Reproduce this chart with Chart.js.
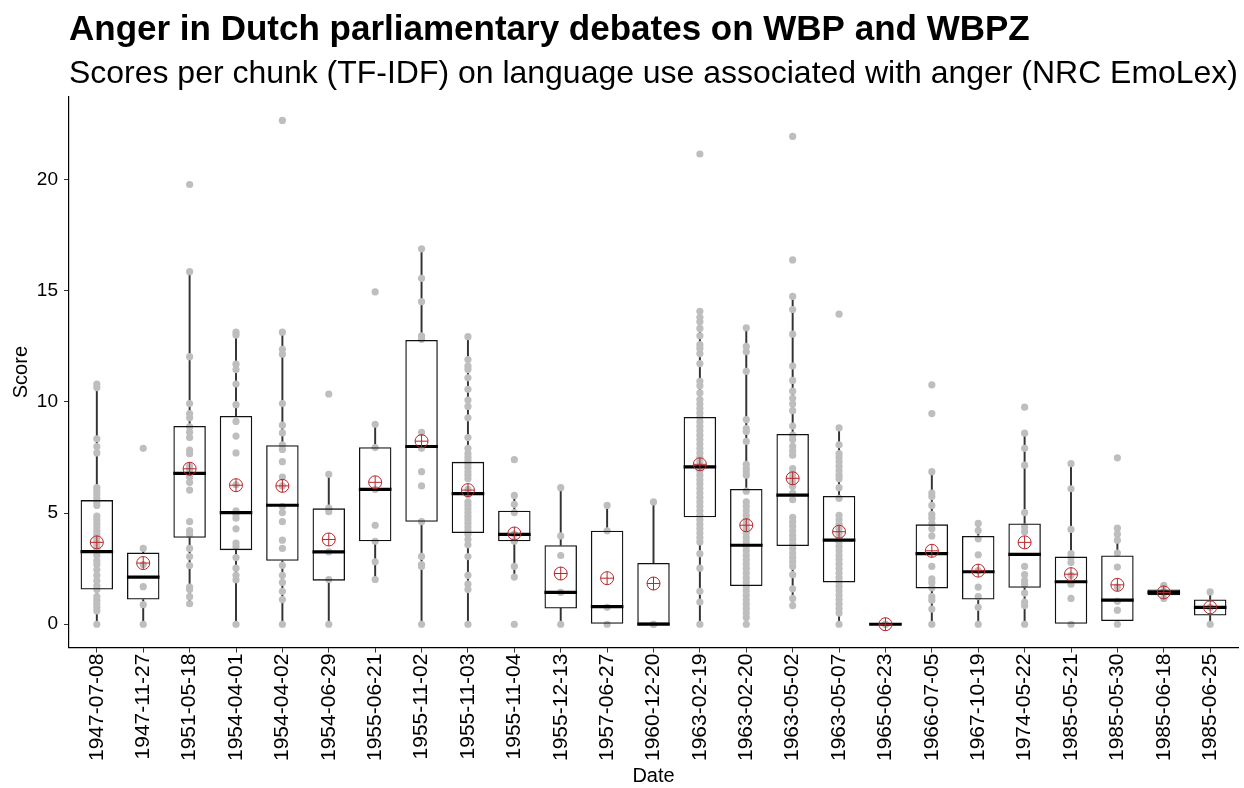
<!DOCTYPE html>
<html>
<head>
<meta charset="utf-8">
<script src="https://cdn.jsdelivr.net/npm/chart.js@4.4.1/dist/chart.umd.min.js"></script>
<style>
  html, body { margin: 0; padding: 0; background: #fff; overflow: hidden; }
  #chart { display: block; }
</style>
</head>
<body>
<canvas id="chart" width="1244" height="788"></canvas>
<script>
const dates = ['1947-07-08', '1947-11-27', '1951-05-18', '1954-04-01', '1954-04-02', '1954-06-29',
    '1955-06-21', '1955-11-02', '1955-11-03', '1955-11-04', '1955-12-13', '1957-06-27', '1960-12-20',
    '1963-02-19', '1963-02-20', '1963-05-02', '1963-05-07', '1965-06-23', '1966-07-05', '1967-10-19',
    '1974-05-22', '1985-05-21', '1985-05-30', '1985-06-18', '1985-06-25'];

// box statistics
const q1 = [1.56, 1.11, 3.89, 3.33, 2.85, 1.96, 3.73, 4.61, 4.10, 3.73, 0.71, 0, 0, 4.81, 1.72, 3.52, 1.88, 0, 1.61, 1.11, 1.64, 0, 0.14, 1.30, 0.39];
const medians = [3.26, 2.12, 6.78, 5.02, 5.35, 3.25, 6.06, 7.99, 5.87, 4.04, 1.43, 0.79, 0, 7.07, 3.55, 5.80, 3.78, 0, 3.17, 2.36, 3.14, 1.91, 1.08, 1.43, 0.76];
const q3 = [5.58, 3.22, 8.91, 9.36, 8.05, 5.21, 7.96, 12.78, 7.30, 5.10, 3.55, 4.20, 2.75, 9.32, 6.08, 8.55, 5.77, 0, 4.49, 3.97, 4.53, 3.04, 3.09, 1.56, 1.11];
const whiskerLow = [0, 0, 0.92, 0, 0, 0, 2.01, 0, 0, 2.12, 0, 0, 0, 0, 0, 0.76, 0, 0, 0, 0, 0, 0, 0, 1.16, 0];
const whiskerHigh = [10.8, 3.41, 15.85, 13.13, 13.13, 6.74, 8.99, 16.88, 12.93, 5.79, 6.14, 5.34, 5.5, 14.07, 13.33, 14.74, 8.83, 0, 6.86, 4.53, 8.59, 7.22, 4.32, 1.75, 1.45];
const means = [3.68, 2.75, 6.99, 6.25, 6.22, 3.81, 6.38, 8.23, 6.03, 4.08, 2.28, 2.07, 1.83, 7.19, 4.45, 6.56, 4.16, 0, 3.30, 2.41, 3.68, 2.25, 1.77, 1.43, 0.76];

// chunk scores per debate
const chunkScores = [
    [10.8, 10.64, 8.34, 7.99, 7.7, 6.14, 5.98, 5.82, 5.66, 5.5, 5.34, 4.86, 4.7, 4.53, 4.37, 4.21, 4.05, 3.89, 3.73, 3.57, 3.41, 3.25, 3.09, 2.85, 2.68, 2.45, 2.2, 1.96, 1.72, 1.56, 1.24, 1.08, 0.92, 0.76, 0.6, 0],
    [7.91, 3.41, 2.68, 1.69, 0.88, 0],
    [19.77, 15.85, 12.03, 9.92, 9.47, 9.28, 8.87, 8.63, 8.39, 7.83, 7.67, 7.11, 6.95, 6.62, 6.38, 6.03, 4.61, 4.21, 4.05, 3.41, 3.04, 2.64, 1.67, 1.56, 1.24, 0.92],
    [13.13, 13.0, 11.69, 11.45, 10.8, 9.87, 9.12, 8.46, 7.7, 6.27, 5.1, 4.94, 4.77, 4.29, 3.65, 3.49, 3.0, 2.52, 2.2, 2.0, 0],
    [22.65, 13.13, 12.36, 12.14, 9.92, 8.95, 8.6, 8.07, 7.86, 7.31, 6.62, 6.22, 5.29, 5.02, 4.61, 3.78, 3.41, 2.65, 2.2, 1.88, 1.48, 1.11, 0],
    [10.35, 6.74, 5.22, 5.06, 3.25, 2.01, 0],
    [14.94, 8.99, 7.94, 6.06, 4.45, 3.73, 2.81, 2.01],
    [16.88, 15.55, 14.5, 12.97, 12.81, 8.63, 7.91, 6.86, 6.22, 4.61, 3.05, 2.68, 2.6, 0],
    [12.93, 11.9, 11.6, 11.45, 11.08, 10.56, 10.08, 9.79, 9.28, 8.39, 7.91, 7.67, 7.5, 7.35, 7.2, 7.03, 6.86, 6.7, 6.54, 6.06, 5.82, 5.5, 5.34, 5.18, 5.02, 4.86, 4.7, 4.53, 4.37, 4.21, 4.05, 3.81, 3.57, 3.04, 2.2, 1.8, 1.56, 0],
    [7.4, 5.79, 5.39, 5.02, 4.05, 3.73, 2.6, 2.12, 0],
    [6.14, 3.97, 3.09, 1.43, 0],
    [5.34, 4.2, 0.76, 0],
    [5.5, 0, 0],
    [21.14, 14.07, 13.8, 13.6, 13.3, 12.97, 12.57, 12.4, 12.17, 11.72, 10.92, 10.72, 10.4, 10.1, 9.9, 9.7, 9.5, 9.3, 9.1, 8.9, 8.7, 8.5, 8.3, 8.1, 7.9, 7.7, 7.5, 7.3, 7.1, 6.9, 6.7, 6.5, 6.3, 6.1, 5.9, 5.7, 5.5, 5.3, 5.1, 4.9, 4.7, 4.5, 4.3, 4.1, 3.9, 3.7, 3.17, 2.52, 1.48, 1.0, 0],
    [13.33, 12.49, 12.25, 11.37, 9.2, 8.79, 8.67, 8.22, 7.19, 7.0, 6.86, 6.7, 5.98, 5.5, 5.3, 5.1, 4.9, 4.7, 4.5, 4.3, 4.1, 3.9, 3.7, 3.5, 3.3, 3.1, 2.9, 2.7, 2.5, 2.3, 2.1, 1.9, 1.7, 1.5, 1.3, 1.1, 0.9, 0.7, 0.5, 0.3, 0],
    [21.93, 16.38, 14.74, 14.15, 13.04, 11.61, 10.96, 10.48, 10.16, 9.9, 9.6, 8.91, 8.5, 8.3, 8.0, 7.8, 7.6, 7.0, 6.8, 6.6, 6.4, 6.2, 5.9, 5.6, 4.8, 4.6, 4.4, 4.2, 4.0, 3.8, 3.6, 3.4, 3.2, 3.0, 2.8, 2.6, 2.23, 1.59, 1.16, 0.84],
    [13.94, 8.83, 8.07, 7.67, 7.5, 7.3, 7.1, 6.9, 6.7, 6.54, 6.14, 5.66, 4.9, 4.7, 4.5, 4.3, 4.1, 3.9, 3.7, 3.5, 3.3, 3.1, 2.9, 2.7, 2.5, 2.3, 2.1, 1.9, 1.7, 1.5, 1.3, 1.1, 0.9, 0.7, 0.5, 0],
    [0, 0],
    [10.76, 9.47, 6.86, 5.9, 5.74, 5.34, 4.94, 4.77, 4.53, 4.29, 3.97, 2.6, 2.04, 1.88, 1.64, 1.24, 1.08, 0.68, 0],
    [4.53, 4.21, 3.84, 3.12, 2.41, 1.67, 1.24, 0.76, 0],
    [9.76, 8.59, 7.91, 7.15, 5.02, 4.37, 4.16, 2.6, 2.23, 1.96, 1.8, 1.4, 1.0, 0.84, 0],
    [7.22, 6.09, 4.26, 3.17, 3.0, 2.77, 2.2, 1.8, 1.16, 0],
    [7.48, 4.32, 4.05, 3.78, 3.2, 2.57, 1.67, 1.03, 0.63, 0],
    [1.75, 1.48, 1.16],
    [1.45, 0.76, 0]
];

const yTicks = [0, 5, 10, 15, 20];

Chart.defaults.font.family = "'Liberation Sans', Arial, sans-serif";
Chart.defaults.color = '#000';

const pointData = [];
chunkScores.forEach((list, i) => list.forEach(v => pointData.push({ x: i, y: v })));

const boxData = dates.map((d, i) => ({ x: i, y: [q1[i], q3[i]] }));
const lowerWhisker = dates.map((d, i) => ({ x: i, y: [whiskerLow[i], q1[i]] }));
const upperWhisker = dates.map((d, i) => ({ x: i, y: [q3[i], whiskerHigh[i]] }));
const medianData = dates.map((d, i) => ({ x: i, y: medians[i] }));
const meanData = dates.map((d, i) => ({ x: i, y: means[i] }));

const meanRed = '#b8262b';

new Chart(document.getElementById('chart'), {
    type: 'bar',
    data: {
        datasets: [
            {
                type: 'bar', data: lowerWhisker, grouped: false, barThickness: 1.3,
                backgroundColor: '#333', borderWidth: 0, order: 6
            },
            {
                type: 'bar', data: upperWhisker, grouped: false, barThickness: 1.3,
                backgroundColor: '#333', borderWidth: 0, order: 6
            },
            {
                type: 'scatter', data: pointData, pointStyle: 'circle', pointRadius: 3.6,
                backgroundColor: '#bebebe', borderWidth: 0, order: 5
            },
            {
                type: 'bar', data: boxData, grouped: false, categoryPercentage: 1, barPercentage: 0.7,
                backgroundColor: 'rgba(255,255,255,0)', borderColor: '#111', borderWidth: 1.3,
                borderSkipped: false, order: 4
            },
            {
                type: 'scatter', data: medianData, pointStyle: 'line', pointRadius: 16.3,
                borderColor: '#000', borderWidth: 3.2, order: 3
            },
            {
                type: 'scatter', data: meanData, pointStyle: 'circle', pointRadius: 6.5,
                backgroundColor: 'rgba(0,0,0,0)', borderColor: meanRed, borderWidth: 1, order: 2
            },
            {
                type: 'scatter', data: meanData, pointStyle: 'cross', pointRadius: 6.5,
                borderColor: meanRed, borderWidth: 1, order: 1
            }
        ]
    },
    options: {
        responsive: false,
        animation: false,
        // the wide median markers would otherwise push the panel in
        layout: { autoPadding: false, padding: { left: 9, right: 6, top: 0, bottom: 0 } },
        scales: {
            x: {
                type: 'linear',
                offset: false,
                min: -0.6,
                max: 24.6,
                afterBuildTicks: scale => { scale.ticks = dates.map((d, i) => ({ value: i })); },
                afterFit: scale => { scale.paddingLeft = 0; scale.paddingRight = 0; },
                ticks: {
                    autoSkip: false,
                    minRotation: 90,
                    maxRotation: 90,
                    padding: 1,
                    font: { size: 21 },
                    color: '#000',
                    callback: v => dates[v]
                },
                grid: { offset: false, drawOnChartArea: false, drawTicks: true, tickLength: 5, color: '#333' },
                border: { display: true, color: '#000', width: 1.2 },
                title: {
                    display: true, text: 'Date', font: { size: 20, lineHeight: 1 }, color: '#000',
                    padding: { top: 4, bottom: 2 }
                }
            },
            y: {
                min: -1.05,
                max: 23.72,
                afterBuildTicks: scale => { scale.ticks = yTicks.map(v => ({ value: v })); },
                afterFit: scale => { scale.width = 60; },
                ticks: { padding: 6, font: { size: 19 }, color: '#000' },
                grid: { drawOnChartArea: false, drawTicks: true, tickLength: 5, color: '#333' },
                border: { display: true, color: '#000', width: 1.2 },
                title: { display: true, text: 'Score', font: { size: 20 }, color: '#000', padding: { top: 0, bottom: 4 } }
            }
        },
        plugins: {
            legend: { display: false },
            tooltip: { enabled: false },
            title: {
                display: true,
                text: 'Anger in Dutch parliamentary debates on WBP and WBPZ',
                align: 'start',
                fullSize: false,
                color: '#000',
                font: { size: 35, weight: 'bold' },
                padding: { top: 9, bottom: 0 }
            },
            subtitle: {
                display: true,
                text: 'Scores per chunk (TF-IDF) on language use associated with anger (NRC EmoLex)',
                align: 'start',
                fullSize: false,
                color: '#000',
                font: { size: 32.2 },
                padding: { top: 4, bottom: 3 }
            }
        }
    }
});
</script>
</body>
</html>
